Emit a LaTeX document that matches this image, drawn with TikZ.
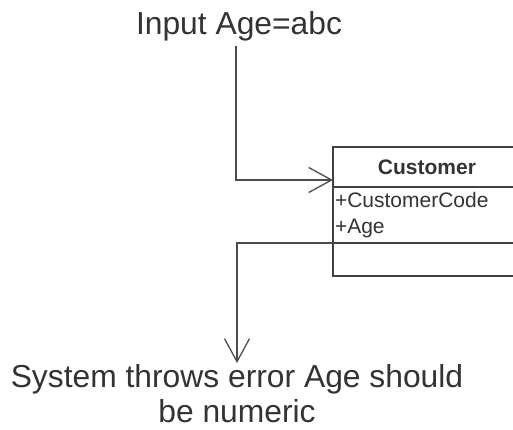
\documentclass[tikz,border=0pt]{standalone}
\usepackage{fontspec}
\setmainfont{Liberation Sans}
\usetikzlibrary{arrows.meta,positioning}
\begin{document}
\begin{tikzpicture}[x=1pt,y=-1pt,
  conn/.style={draw=black!70,line width=2pt,-{Straight Barb[length=23pt,width=25pt,line width=1.3pt]}},
  part/.style={draw=black!75,line width=1.4pt,minimum width=188pt,inner sep=0pt,outer sep=0pt,anchor=north west},
  label/.style={text=black!80,font=\fontsize{31.8}{35}\selectfont}]
\useasboundingbox (0,0) rectangle (513,430);
% class box
\node[part,minimum height=40pt,font=\fontsize{21}{26}\selectfont\bfseries,text=black!80] (head) at (333,147) {Customer};
\node[part,minimum height=56pt,font=\fontsize{21}{26}\selectfont,text=black!80,align=left,text width=184pt,inner xsep=2pt] (attrs) at (333,187) {+CustomerCode\\+Age};
\node[part,minimum height=33pt] (ops) at (333,243) {};
% texts
\node[label,anchor=base,inner sep=4pt] (input) at (239,35) {Input Age=abc};
\node[label,anchor=north,align=center,inner sep=1pt] (err) at (237,363) {System throws error Age should\\be numeric};
% connectors
\coordinate (hit) at (333,180);
\draw[conn] (input.south -| 236,0) |- (hit);
\draw[conn] (attrs.south west) -| (err.north);
\end{tikzpicture}
\end{document}
